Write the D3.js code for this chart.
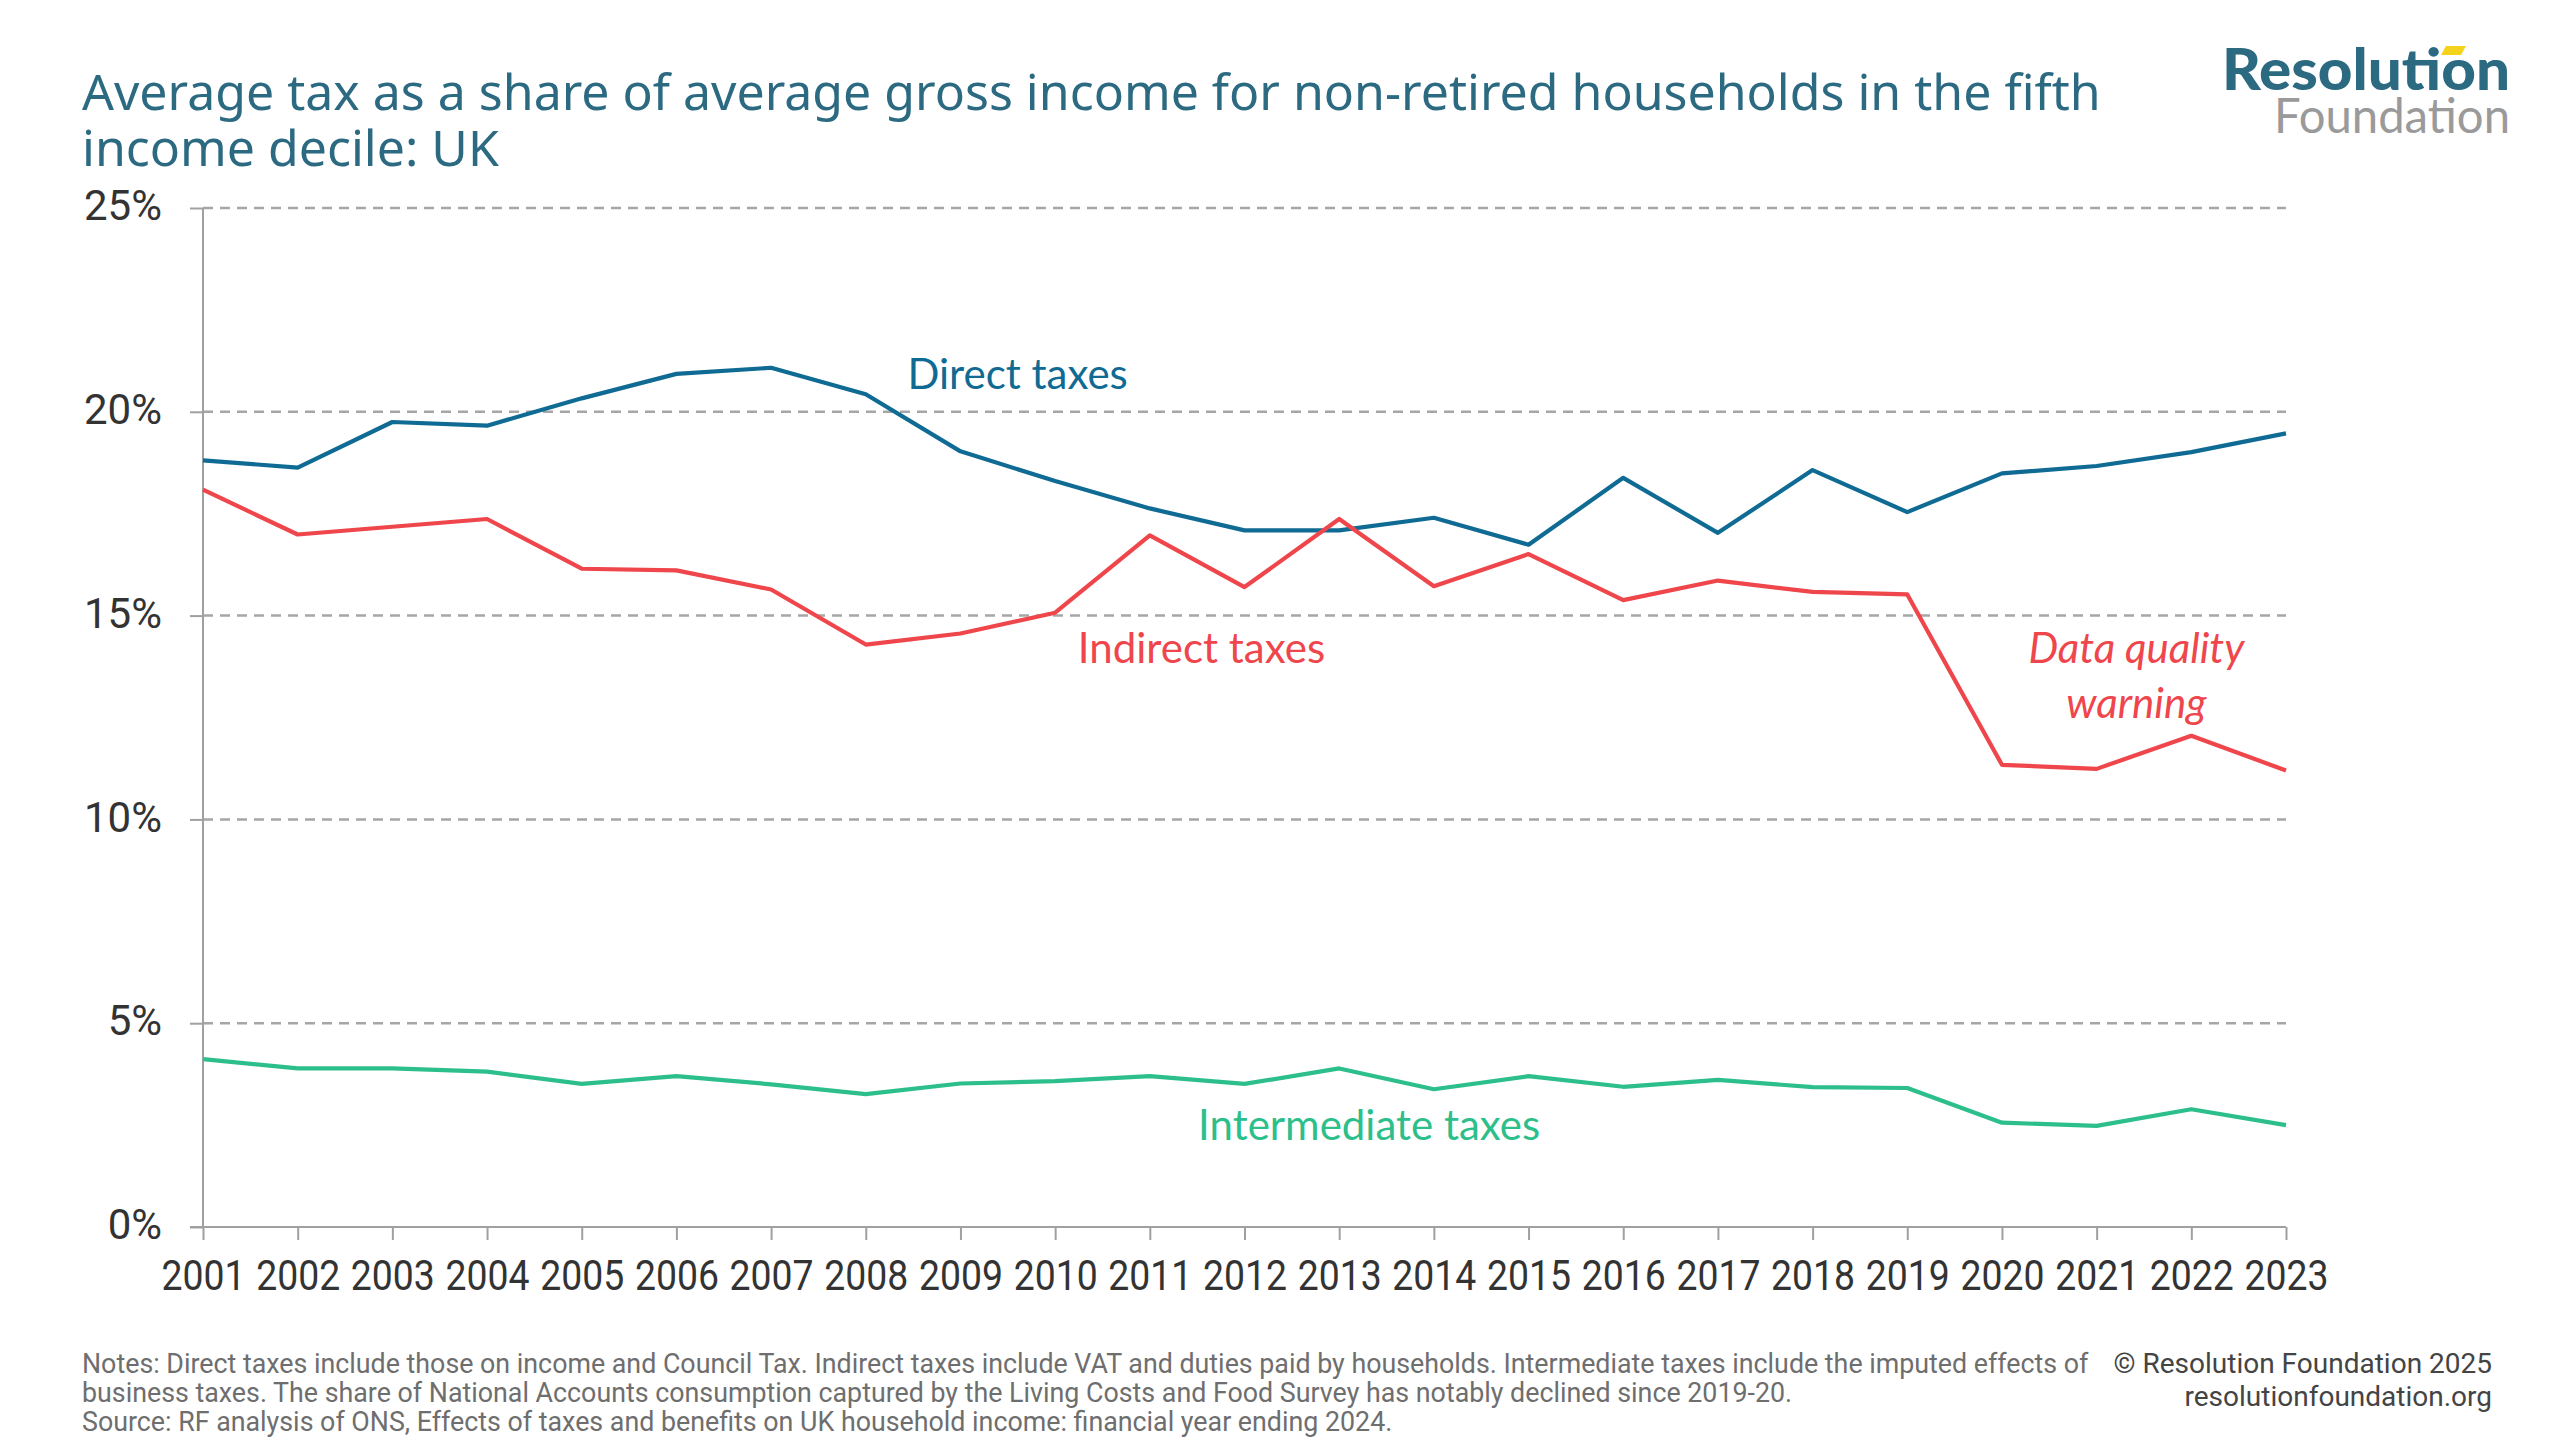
<!DOCTYPE html>
<html>
<head>
<meta charset="utf-8">
<script src="https://cdn.jsdelivr.net/npm/d3@7"></script>
<style>
  body { margin: 0; background: #fff; }
  svg { display: block; }
</style>
</head>
<body>
<svg id="chart" width="2560" height="1440"></svg>
<script>
var years = [2001,2002,2003,2004,2005,2006,2007,2008,2009,2010,2011,2012,2013,2014,2015,2016,2017,2018,2019,2020,2021,2022,2023];
var direct = [18.81,18.63,19.75,19.66,20.33,20.93,21.08,20.43,19.03,18.30,17.63,17.09,17.09,17.40,16.74,18.38,17.03,18.57,17.54,18.49,18.67,19.01,19.47];
var indirect = [18.09,16.99,17.18,17.37,16.15,16.11,15.64,14.29,14.56,15.07,16.97,15.70,17.37,15.72,16.51,15.38,15.86,15.58,15.52,11.34,11.24,12.05,11.20];
var intermediate = [4.12,3.89,3.89,3.81,3.51,3.70,3.50,3.26,3.52,3.58,3.70,3.51,3.89,3.38,3.70,3.44,3.61,3.43,3.41,2.56,2.48,2.89,2.50];
var yTicks = [0,5,10,15,20,25];

var colors = { direct: "#0f6b93", indirect: "#ef464c", intermediate: "#2dbf8b" };

var svg = d3.select("#chart");

var x = d3.scaleLinear().domain([2001, 2023]).range([203, 2286]);
var y = d3.scaleLinear().domain([0, 25]).range([1227, 208]);

// title
svg.append("text")
  .attr("x", 82).attr("y", 110)
  .attr("font-family", "Noto Sans").attr("font-size", 50)
  .attr("fill", "#2c6a82")
  .text("Average tax as a share of average gross income for non-retired households in the fifth");
svg.append("text")
  .attr("x", 82).attr("y", 166)
  .attr("font-family", "Noto Sans").attr("font-size", 50)
  .attr("fill", "#2c6a82")
  .text("income decile: UK");

// logo
svg.append("text")
  .attr("x", 2510).attr("y", 90).attr("text-anchor", "end")
  .attr("font-family", "Lato").attr("font-weight", 900).attr("font-size", 57)
  .attr("textLength", 288).attr("lengthAdjust", "spacingAndGlyphs")
  .attr("fill", "#2b6a80")
  .text("Resolution");
svg.append("polygon")
  .attr("points", "2446,46 2466,46 2461,55 2441,55")
  .attr("fill", "#f5d31c");
svg.append("text")
  .attr("x", 2510).attr("y", 133).attr("text-anchor", "end")
  .attr("font-family", "Lato").attr("font-size", 48)
  .attr("textLength", 236).attr("lengthAdjust", "spacingAndGlyphs")
  .attr("fill", "#9a9a9a")
  .text("Foundation");

// gridlines
svg.append("g")
  .selectAll("line")
  .data(yTicks.filter(function(d){ return d > 0; }))
  .enter()
  .append("line")
    .attr("x1", x(2001)).attr("x2", x(2023))
    .attr("y1", function(d){ return y(d); })
    .attr("y2", function(d){ return y(d); })
    .attr("stroke", "#a6a6a6")
    .attr("stroke-width", 2.5)
    .attr("stroke-dasharray", "10,7");

// axes
var yAxis = svg.append("g")
  .attr("transform", "translate(" + x(2001) + ",0)")
  .call(d3.axisLeft(y).tickValues(yTicks).tickFormat(function(d){ return d + "%"; }).tickSize(13).tickPadding(28));
var xAxis = svg.append("g")
  .attr("transform", "translate(0," + y(0) + ")")
  .call(d3.axisBottom(x).tickValues(years).tickFormat(d3.format("d")).tickSize(13).tickPadding(20));

[yAxis, xAxis].forEach(function(g){
  g.select(".domain").attr("stroke", "#a0a0a0").attr("stroke-width", 2);
  g.selectAll(".tick line").attr("stroke", "#a0a0a0").attr("stroke-width", 2);
  g.selectAll(".tick text")
    .attr("font-family", "Roboto").attr("font-size", 42)
    .attr("fill", "#333");
});
yAxis.select(".domain").attr("d", "M0," + y(0) + "V" + y(25));
xAxis.select(".domain").attr("d", "M" + (x(2001) - 13) + ",0H" + x(2023));
yAxis.selectAll(".tick text").attr("dy", "0.28em");
xAxis.selectAll(".tick text").attr("textLength", 84).attr("lengthAdjust", "spacingAndGlyphs");

// lines
var series = [
  { key: "direct", values: direct },
  { key: "indirect", values: indirect },
  { key: "intermediate", values: intermediate }
];
var line = d3.line()
  .x(function(d, i){ return x(years[i]); })
  .y(function(d){ return y(d); });

svg.append("g")
  .selectAll("path")
  .data(series)
  .enter()
  .append("path")
    .attr("d", function(d){ return line(d.values); })
    .attr("fill", "none")
    .attr("stroke", function(d){ return colors[d.key]; })
    .attr("stroke-width", 4.2)
    .attr("stroke-linejoin", "round");

// labels
var labels = [
  { text: "Direct taxes", yr: 2008.44, v: 20.56, color: colors.direct, anchor: "start", italic: false },
  { text: "Indirect taxes", yr: 2010.24, v: 13.84, color: colors.indirect, anchor: "start", italic: false },
  { text: "Intermediate taxes", yr: 2011.51, v: 2.13, color: colors.intermediate, anchor: "start", italic: false },
  { text: "Data quality", yr: 2021.42, v: 13.84, color: colors.indirect, anchor: "middle", italic: true },
  { text: "warning", yr: 2021.42, v: 12.50, color: colors.indirect, anchor: "middle", italic: true }
];
svg.append("g")
  .selectAll("text")
  .data(labels)
  .enter()
  .append("text")
    .attr("x", function(d){ return x(d.yr); })
    .attr("y", function(d){ return y(d.v); })
    .attr("text-anchor", function(d){ return d.anchor; })
    .attr("font-family", "Lato")
    .attr("font-size", 42)
    .attr("font-style", function(d){ return d.italic ? "italic" : "normal"; })
    .attr("fill", function(d){ return d.color; })
    .text(function(d){ return d.text; });

// footer
var notes = [
  "Notes: Direct taxes include those on income and Council Tax. Indirect taxes include VAT and duties paid by households. Intermediate taxes include the imputed effects of",
  "business taxes. The share of National Accounts consumption captured by the Living Costs and Food Survey has notably declined since 2019-20.",
  "Source: RF analysis of ONS, Effects of taxes and benefits on UK household income: financial year ending 2024."
];
svg.append("g")
  .selectAll("text")
  .data(notes)
  .enter()
  .append("text")
    .attr("x", 82)
    .attr("y", function(d, i){ return 1373 + i * 29; })
    .attr("font-family", "Roboto").attr("font-size", 26.8)
    .attr("fill", "#6e6e6e")
    .text(function(d){ return d; });

var credits = ["\u00a9 Resolution Foundation 2025", "resolutionfoundation.org"];
svg.append("g")
  .selectAll("text")
  .data(credits)
  .enter()
  .append("text")
    .attr("x", 2492)
    .attr("y", function(d, i){ return 1373 + i * 33; })
    .attr("text-anchor", "end")
    .attr("font-family", "Roboto").attr("font-size", 28)
    .attr("fill", "#444")
    .text(function(d){ return d; });
</script>
</body>
</html>
